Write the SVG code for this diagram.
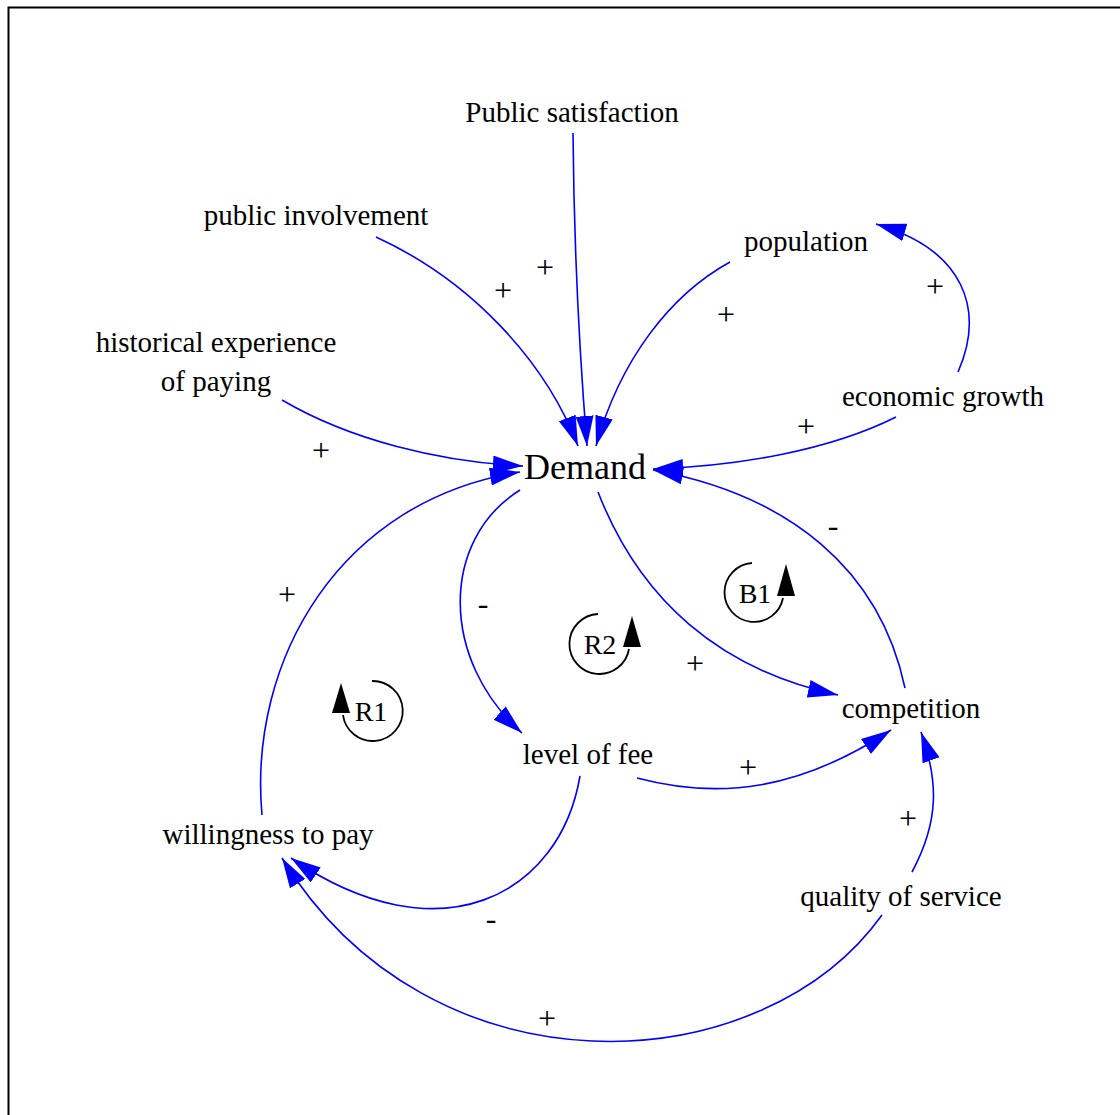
<svg xmlns="http://www.w3.org/2000/svg" width="1120" height="1115" viewBox="0 0 1120 1115">
<style>
.lbl{font-family:"Liberation Serif","Times New Roman",serif;font-size:29px;fill:#000;text-anchor:middle}
.big{font-size:36px}
.sg{font-family:"Liberation Serif","Times New Roman",serif;font-size:32px;fill:#000;text-anchor:middle}
.lp{font-family:"Liberation Serif","Times New Roman",serif;font-size:28px;fill:#000;text-anchor:middle}
.c{fill:none;stroke:#0000ff;stroke-width:1.6;marker-end:url(#ah)}
.loop{fill:none;stroke:#000;stroke-width:1.8}
</style>
<defs>
<marker id="ah" markerUnits="userSpaceOnUse" markerWidth="32" markerHeight="20" refX="30" refY="9" orient="auto">
<path d="M0,0 L30,9 L0,18 z" fill="#0000ff"/>
</marker>
</defs>
<rect x="0" y="0" width="1120" height="1115" fill="#fff"/>
<rect x="8.5" y="7.5" width="1300" height="1300" fill="none" stroke="#000" stroke-width="2"/>

<g id="connectors">
<path class="c" d="M573,133 C574,250 580,360 587,446"/>
<path class="c" d="M376,237 C470,280 545,360 578,446"/>
<path class="c" d="M730,262 C670,295 620,360 596,446"/>
<path class="c" d="M958,372 C985,310 965,250 876,224"/>
<path class="c" d="M896,417 C830,450 740,466 653,469"/>
<path class="c" d="M282,400 C350,440 440,462 523,466"/>
<path class="c" d="M262,815 C248,660 340,500 520,472"/>
<path class="c" d="M520,490 C440,540 440,660 522,733"/>
<path class="c" d="M598,492 C640,600 720,670 838,695"/>
<path class="c" d="M905,688 C880,570 790,495 653,470"/>
<path class="c" d="M637,778 C720,800 800,790 891,730"/>
<path class="c" d="M912,872 C940,820 938,780 921,732"/>
<path class="c" d="M580,776 C560,895 440,960 291,858"/>
<path class="c" d="M882,915 C760,1085 430,1100 282,858"/>
</g>

<g id="signs">
<text class="sg" x="545" y="278">+</text>
<text class="sg" x="503" y="301">+</text>
<text class="sg" x="726" y="325">+</text>
<text class="sg" x="935" y="297">+</text>
<text class="sg" x="806" y="437">+</text>
<text class="sg" x="321" y="461">+</text>
<text class="sg" x="287" y="605">+</text>
<text class="sg" x="483" y="614">-</text>
<text class="sg" x="695" y="674">+</text>
<text class="sg" x="833" y="536">-</text>
<text class="sg" x="748" y="778">+</text>
<text class="sg" x="908" y="829">+</text>
<text class="sg" x="491" y="929">-</text>
<text class="sg" x="547" y="1029">+</text>
</g>

<g id="node-public-satisfaction"><text class="lbl" x="572" y="122">Public satisfaction</text></g>
<g id="node-public-involvement"><text class="lbl" x="316" y="225">public involvement</text></g>
<g id="node-population"><text class="lbl" x="806" y="251">population</text></g>
<g id="node-historical"><text class="lbl" x="216" y="352">historical experience</text><text class="lbl" x="216" y="391">of paying</text></g>
<g id="node-economic-growth"><text class="lbl" x="943" y="406">economic growth</text></g>
<g id="node-demand"><text class="lbl big" x="585" y="479">Demand</text></g>
<g id="node-competition"><text class="lbl" x="911" y="718">competition</text></g>
<g id="node-level-of-fee"><text class="lbl" x="588" y="764">level of fee</text></g>
<g id="node-willingness"><text class="lbl" x="268" y="844">willingness to pay</text></g>
<g id="node-quality"><text class="lbl" x="901" y="906">quality of service</text></g>

<g id="loop-B1">
<path class="loop" d="M752,563 A29.5,29.5 0 1 0 783,598"/>
<path d="M786,564 L777,596 L795,596 z" fill="#000"/>
<text class="lp" x="755" y="603">B1</text>
</g>
<g id="loop-R2">
<path class="loop" d="M598,614 A30,30 0 1 0 629,649"/>
<path d="M632,616 L623,647 L641,647 z" fill="#000"/>
<text class="lp" x="600" y="654">R2</text>
</g>
<g id="loop-R1">
<path class="loop" d="M372,681 A30,30 0 1 1 343,715"/>
<path d="M341,683 L332,713 L350,713 z" fill="#000"/>
<text class="lp" x="371" y="721">R1</text>
</g>
</svg>
